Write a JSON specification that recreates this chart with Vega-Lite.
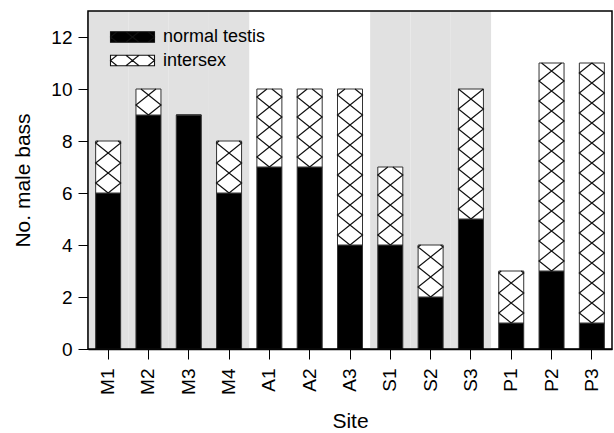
{
  "$schema": "https://vega.github.io/schema/vega-lite/v6.json",
  "autosize": {"type": "none"},
  "padding": {"left": 88, "top": 11, "right": 2, "bottom": 84},
  "width": 524,
  "height": 338,
  "config": {
    "font": "Liberation Sans",
    "view": {"stroke": "black", "strokeWidth": 1.5},
    "style": {"cell": {"strokeForeground": true}},
    "axis": {
      "grid": false,
      "domain": true,
      "domainColor": "black",
      "domainWidth": 1.5,
      "tickColor": "black",
      "tickWidth": 1,
      "tickSize": 10,
      "labelColor": "black",
      "labelFontSize": 19,
      "titleColor": "black",
      "titleFontSize": 21,
      "titleFontWeight": "normal",
      "zindex": 1
    }
  },
  "data": {
    "values": [
      {"site": "M1", "group": "M", "normal testis": 6, "intersex": 2},
      {"site": "M2", "group": "M", "normal testis": 9, "intersex": 1},
      {"site": "M3", "group": "M", "normal testis": 9, "intersex": 0},
      {"site": "M4", "group": "M", "normal testis": 6, "intersex": 2},
      {"site": "A1", "group": "A", "normal testis": 7, "intersex": 3},
      {"site": "A2", "group": "A", "normal testis": 7, "intersex": 3},
      {"site": "A3", "group": "A", "normal testis": 4, "intersex": 6},
      {"site": "S1", "group": "S", "normal testis": 4, "intersex": 3},
      {"site": "S2", "group": "S", "normal testis": 2, "intersex": 2},
      {"site": "S3", "group": "S", "normal testis": 5, "intersex": 5},
      {"site": "P1", "group": "P", "normal testis": 1, "intersex": 2},
      {"site": "P2", "group": "P", "normal testis": 3, "intersex": 8},
      {"site": "P3", "group": "P", "normal testis": 1, "intersex": 10}
    ]
  },
  "layer": [
    {
      "transform": [{"filter": "datum.group == 'M' || datum.group == 'S'"}],
      "mark": {"type": "bar", "width": {"band": 1}, "color": "#e1e1e1"},
      "encoding": {
        "x": {"field": "site", "type": "nominal", "sort": null,
              "scale": {"domain": ["M1","M2","M3","M4","A1","A2","A3","S1","S2","S3","P1","P2","P3"], "paddingInner": 0, "paddingOuter": 0},
              "axis": {"title": "Site", "labelAngle": -90, "labelPadding": 9, "titlePadding": 16}},
        "y": {"datum": 13, "type": "quantitative",
              "scale": {"domain": [0, 13], "nice": false},
              "axis": {"title": "No. male bass", "values": [0,2,4,6,8,10,12], "labelPadding": 6, "titlePadding": 17}}
      }
    },
    {
      "transform": [{"fold": ["normal testis", "intersex"], "as": ["type", "count"]}],
      "mark": {"type": "bar", "width": 25, "stroke": "#333333", "strokeWidth": 1},
      "encoding": {
        "x": {"field": "site", "type": "nominal", "sort": null},
        "y": {"field": "count", "type": "quantitative", "stack": "zero",
              "axis": {"title": "No. male bass", "values": [0,2,4,6,8,10,12], "labelPadding": 6, "titlePadding": 17}},
        "order": {"field": "type", "sort": "descending"},
        "fill": {
          "field": "type", "type": "nominal",
          "scale": {"domain": ["normal testis", "intersex"], "range": ["black", "white"]},
          "legend": {
            "title": null,
            "orient": "none",
            "legendX": 35.5,
            "legendY": 17,
            "padding": 0,
            "symbolType": "M-4.4,-1.05H4.4V1.05H-4.4ZM-3.09,1.05L-4.4,0L-3.09,-1.05M-1.31,-1.05L1.31,1.05M-1.31,1.05L1.31,-1.05M3.09,-1.05L4.4,0L3.09,1.05",
            "symbolSize": 100,
            "symbolStrokeColor": "#111111",
            "symbolStrokeWidth": 1.1,
            "symbolOffset": 0,
            "labelOffset": 21.5,
            "labelFontSize": 18,
            "labelColor": "black",
            "rowPadding": 5.5
          }
        }
      }
    },
    {
      "transform": [{"filter": "datum.intersex > 0"}],
      "mark": {"type": "point", "filled": false, "stroke": "#111111", "strokeWidth": 1.2, "opacity": 1, "size": 625},
      "encoding": {
        "x": {"field": "site", "type": "nominal", "sort": null},
        "y": {"field": "normal testis", "type": "quantitative",
              "axis": {"title": "No. male bass", "values": [0,2,4,6,8,10,12], "labelPadding": 6, "titlePadding": 17}},
        "shape": {
          "field": "intersex", "type": "nominal", "legend": null,
          "scale": {
            "domain": [1, 2, 3, 5, 6, 8, 10],
            "range": [
              "M0,0L1,-0.8L-0.6,-2.08M0,0L-1,-0.8L0.6,-2.08",
              "M0,0L1,-0.8L-1,-2.4L1,-4L0.8,-4.16M0,0L-1,-0.8L1,-2.4L-1,-4L-0.8,-4.16",
              "M0,0L1,-0.8L-1,-2.4L1,-4L-1,-5.6L-0.2,-6.24M0,0L-1,-0.8L1,-2.4L-1,-4L1,-5.6L0.2,-6.24",
              "M0,0L1,-0.8L-1,-2.4L1,-4L-1,-5.6L1,-7.2L-1,-8.8L1,-10.4M0,0L-1,-0.8L1,-2.4L-1,-4L1,-5.6L-1,-7.2L1,-8.8L-1,-10.4",
              "M0,0L1,-0.8L-1,-2.4L1,-4L-1,-5.6L1,-7.2L-1,-8.8L1,-10.4L-1,-12L-0.4,-12.48M0,0L-1,-0.8L1,-2.4L-1,-4L1,-5.6L-1,-7.2L1,-8.8L-1,-10.4L1,-12L0.4,-12.48",
              "M0,0L1,-0.8L-1,-2.4L1,-4L-1,-5.6L1,-7.2L-1,-8.8L1,-10.4L-1,-12L1,-13.6L-1,-15.2L0.8,-16.64M0,0L-1,-0.8L1,-2.4L-1,-4L1,-5.6L-1,-7.2L1,-8.8L-1,-10.4L1,-12L-1,-13.6L1,-15.2L-0.8,-16.64",
              "M0,0L1,-0.8L-1,-2.4L1,-4L-1,-5.6L1,-7.2L-1,-8.8L1,-10.4L-1,-12L1,-13.6L-1,-15.2L1,-16.8L-1,-18.4L1,-20L0,-20.8M0,0L-1,-0.8L1,-2.4L-1,-4L1,-5.6L-1,-7.2L1,-8.8L-1,-10.4L1,-12L-1,-13.6L1,-15.2L-1,-16.8L1,-18.4L-1,-20L0,-20.8"
            ]
          }
        }
      }
    }
  ]
}
